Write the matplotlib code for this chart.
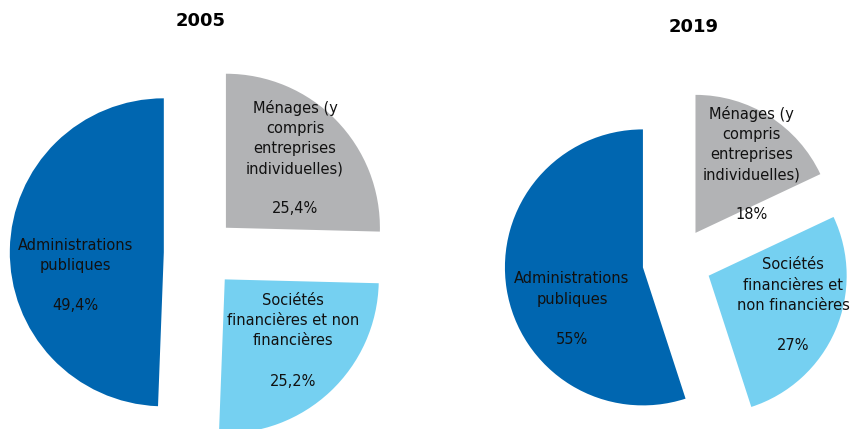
import matplotlib
matplotlib.use("Agg")
import matplotlib.pyplot as plt

# ---- data ----
categories = ["Ménages (y\ncompris\nentreprises\nindividuelles)",
              "Sociétés\nfinancières et non\nfinancières",
              "Administrations\npubliques"]
categories_2019 = ["Ménages (y\ncompris\nentreprises\nindividuelles)",
                   "Sociétés\nfinancières et\nnon financières",
                   "Administrations\npubliques"]
values_2005 = [25.4, 25.2, 49.4]
values_2019 = [18, 27, 55]
pct_labels_2005 = ["25,4%", "25,2%", "49,4%"]
pct_labels_2019 = ["18%", "27%", "55%"]
titles = ["2005", "2019"]

colors = ["#B2B3B5", "#75D0F1", "#0066B0"]

W, H = 850, 429
fig = plt.figure(figsize=(W / 100, H / 100), dpi=100)
ax = fig.add_axes([0, 0, 1, 1])
ax.set_xlim(0, W)
ax.set_ylim(0, H)
ax.axis("off")

# layout (pixels, y upward)
pies = [
    dict(vals=values_2005, cats=categories, pcts=pct_labels_2005, title=titles[0],
         center=(200, 176), radius=154, expl=0.235,
         lab=[(0.617, 0.617), (0.604, -0.571), (-0.81, -0.146)],
         title_xy=(201, 408)),
    dict(vals=values_2019, cats=categories_2019, pcts=pct_labels_2019, title=titles[1],
         center=(677, 167), radius=138, expl=0.25,
         lab=[(0.543, 0.71), (0.841, -0.312), (-0.761, -0.341)],
         title_xy=(694, 402)),
]

for p in pies:
    R = p["radius"]
    ax.pie(p["vals"], colors=colors, startangle=90, counterclock=False,
           center=p["center"], radius=R,
           explode=[p["expl"] * R] * len(p["vals"]),
           wedgeprops=dict(linewidth=0), frame=True)
    cx, cy = p["center"]
    for cat, pct, (ox, oy) in zip(p["cats"], p["pcts"], p["lab"]):
        ax.text(cx + ox * R, cy + oy * R, cat + "\n\n" + pct,
                ha="center", va="center", multialignment="center",
                fontsize=10.5, color="#111111", linespacing=1.42,
                family="DejaVu Sans")
    ax.text(p["title_xy"][0], p["title_xy"][1], p["title"], ha="center", va="center",
            fontsize=13, fontweight="bold", color="black")

ax.set_xlim(0, W)
ax.set_ylim(0, H)
ax.set_aspect("auto")
ax.axis("off")

fig.savefig("out.png", dpi=100)
